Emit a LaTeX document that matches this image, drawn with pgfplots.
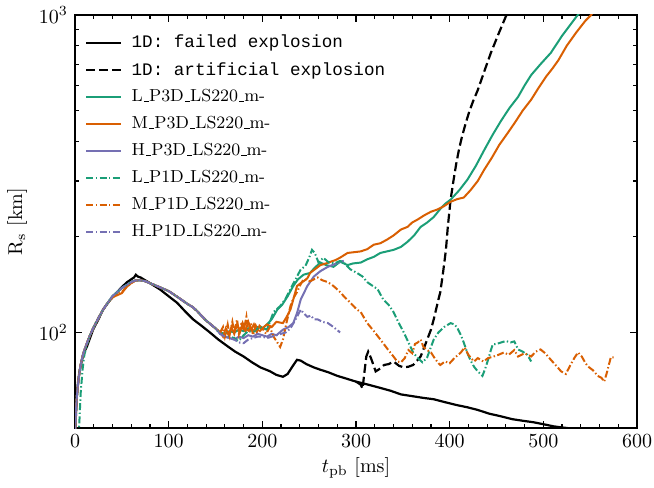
\documentclass[border=0pt]{standalone}
\usepackage{fontspec}
\usepackage{pgfplots}
\pgfplotsset{compat=1.18}
\newfontfamily\cour{Liberation Mono}
\newcommand{\us}{\leavevmode\kern.06em\vbox{\hrule width.3em}}
\newcommand{\lm}[1]{{\fontsize{8.7}{10}\selectfont #1}}
\newcommand{\lt}[1]{{\cour\fontsize{8.8}{10}\selectfont #1}}
\definecolor{dgreen}{HTML}{1B9E77}
\definecolor{dorange}{HTML}{D95F02}
\definecolor{dpurple}{HTML}{7570B3}
\begin{document}
\begin{tikzpicture}
\begin{axis}[
  scale only axis,
  width=281pt, height=206.5pt,
  xmin=0, xmax=600, ymin=50, ymax=1000,
  ymode=log,
  xtick={0,100,...,600},
  minor x tick num=4,
  ytick={100,1000},
  tick align=inside,
  major tick length=3.5pt, minor tick length=2pt,
  axis line style={line width=0.8pt},
  every tick/.style={black, line width=0.6pt},
  xlabel={$t_{\mathrm{pb}}$ [ms]},
  ylabel={R$_{\mathrm{s}}$ [km]},
  xlabel style={yshift=2pt},
  ylabel style={yshift=-1pt},
  legend style={at={(0.007,0.972)}, anchor=north west, draw=none, fill=none,
    row sep=1.8pt, cells={anchor=west},
    /tikz/every odd column/.append style={column sep=3pt}},
  legend cell align=left,
  clip=true,
]
% 1D failed
\addplot[black, line width=1.1pt] coordinates {
(0,47)(1,55)(2,63)(3.2,69.6)(5,76)(7.5,82)(10,87)(12.8,90.4)(16,96)(19.3,102)(25,110)(30,118)(37,126)(45,134)(50,139)(55.6,144)(60,147)(63,149)(65,152)(67,150)(70,149)(80,143)(90.9,136.5)(100,130)(109,124)(117,117)(126,110)(135,105)(144,100)(153,95)(163,90.4)(171,87)(180,84)(189,80.5)(198,77.6)(208,75.5)(215,73.5)(222,72.5)(227,74)(232,78)(237,82)(241,81.5)(247,79.5)(255,77.6)(262,76.3)(270,75)(280,73)(290,71.5)(300,70)(312,68.6)(325,67)(337,65.5)(348,63.8)(360,63)(372,62.2)(383,61.6)(395,60.3)(407,59.1)(419,58.1)(430,57)(442,55.5)(455,54.4)(467,53.3)(478,52.7)(490,52.1)(500,51.4)(511,50.6)(520,50.2)(530,49.8)(540,49.5)
};
\addlegendentry{\lt{1D: failed explosion}}
% 1D artificial
\addplot[black, line width=1.1pt, dash pattern=on 4.5pt off 2pt] coordinates {
(300,70)(305,68.5)(307,66.5)(309,75)(311,84)(313,87)(316,83)(321,75.4)(326,77)(330,79)(335,79.5)(340,81)(346,78.5)(351,77.6)(356,78)(361,79)(366,82)(369,84)(373,90)(376,95)(380,102)(383,110)(388,127)(390,134)(393,155)(396,182)(398,215)(401,262)(404,300)(407,340)(410,378)(413,412)(417,455)(421,497)(425,535)(430,580)(437,665)(444,760)(452,870)(460,990)(465,1060)
};
\addlegendentry{\lt{1D: artificial explosion}}
% L_P3D
\addplot[dgreen, line width=1pt] coordinates {
(0,47)(1,56)(2,63)(4,72)(6,79)(8,84)(10,88)(13,93)(16,98)(20,104)(25,111)(30,118)(35,124)(40,130)(45,134)(50,138)(55,141)(60,144)(65,146)(70,146)(75,145)(80,143)(90,139)(100,135)(110,129)(120,123)(126,120)(130,117)(140,109)(150,103)(155,100)(160,99)(165,101)(170,100)(175,102)(180,101)(185,103)(190,101)(195,104)(200,103)(205,106)(210,110)(216,118)(221,122)(227,130)(233,140)(238,147)(244,152)(251,154)(256,160)(262,166)(268,163)(276,161)(283,167)(291,163)(297,165)(305,166)(312,170)(319,173)(326,178)(333,180)(340,182)(348,186)(355,193)(362,202)(369,215)(376,222)(383,231)(390,245)(395,254)(401,262)(410,280)(419,303)(428,335)(437,376)(446,420)(455,465)(464,510)(473,552)(480,600)(487,647)(497,700)(508,760)(520,860)(535,985)(540,1030)
};
\addlegendentry{\lm{L\us P3D\us LS220\us m-}}
% M_P3D
\addplot[dorange, line width=1pt] coordinates {
(0,47)(1,56)(2,63)(4,72)(6,79)(8,84)(10,88)(13,93)(16,98)(20,104)(25,111)(30,118)(35,124)(40,129)(45,131)(50,133)(55,139)(60,143)(65,146)(70,146)(75,145)(80,143)(90,139)(100,135)(110,129)(120,123)(126,120)(130,117)(140,109)(150,103)(155,100)(158,97)(161,103)(164,98)(167,104)(170,99)(173,106)(176,100)(179,107)(182,101)(185,108)(188,102)(191,106)(194,100)(197,105)(200,103)(205,106)(210,104)(215,108)(222,107)(226,112)(230,118)(234,130)(237,140)(241,143)(244,145)(248,148)(251,154)(256,158)(262,163)(268,165)(273,167)(278,169)(283,172)(291,178)(298,179)(305,180)(312,183)(319,189)(326,191)(333,196)(340,202)(348,211)(355,215)(360,222)(366,227)(373,234)(380,240)(387,244)(394,250)(401,258)(408,263)(415,266)(422,280)(430,300)(437,326)(445,355)(453,390)(462,425)(470,460)(478,500)(487,541)(495,590)(503,640)(510,680)(516,720)(525,800)(535,880)(545,960)(551,1000)(555,1040)
};
\addlegendentry{\lm{M\us P3D\us LS220\us m-}}
% H_P3D
\addplot[dpurple, line width=1pt] coordinates {
(0,47)(1,56)(2,63)(4,72)(6,79)(8,84)(10,88)(13,93)(16,98)(20,104)(25,111)(30,118)(35,124)(40,130)(45,134)(50,138)(55,141)(60,144)(65,146)(70,146)(75,145)(80,143)(90,139)(100,135)(110,129)(120,123)(126,120)(130,117)(140,109)(150,103)(155,99)(160,97)(165,96)(170,95)(175,97)(180,96)(185,98)(190,97)(195,99)(200,98)(205,97)(210,99)(215,98)(222,102)(228,104)(233,107)(237,115)(241,127)(248,140)(255,150)(262,156)(270,161)(277,164)(283,167)(287,168)
};
\addlegendentry{\lm{H\us P3D\us LS220\us m-}}
% L_P1D
\addplot[dgreen, line width=1pt, dash pattern=on 3.5pt off 1.2pt on 0.7pt off 1.2pt] coordinates {
(4,47)(5,55)(6,64)(8,76)(10,85)(13,92)(16,98)(20,104)(25,111)(30,118)(35,124)(40,130)(45,134)(50,138)(55,141)(60,144)(65,146)(70,146)(75,145)(80,143)(90,139)(100,135)(110,129)(120,123)(126,120)(130,117)(140,109)(150,103)(155,99)(160,98)(165,97)(170,96)(174,94)(176,95)(180,98)(185,101)(190,100)(195,103)(198,104)(205,102)(212,116)(219,121)(225,128)(230,137)(236,148)(241,158)(246,162)(250,172)(253,182)(256,178)(260,166)(265,172)(271,166)(277,165)(283,168)(287,166)(294,158)(301,154)(307,150)(312,144)(318,140)(323,137)(329,127)(335,122)(340,116)(345,108)(351,100)(356,93)(361,86.5)(366,83)(371,80.5)(376,83.5)(380,90)(383,95)(388,100)(394,104)(401,107)(405,106)(408,103.6)(412,98)(415,93)(419,86)(422,82)(426,78)(430,75.4)(435,73)(438,77)(441,82)(444,88)(446,91.7)(450,92)(455,93)(460,94)(465,93)(469,93.7)(473,88.4)(478,87)(483,85)(487,81)
};
\addlegendentry{\lm{L\us P1D\us LS220\us m-}}
% M_P1D
\addplot[dorange, line width=1pt, dash pattern=on 3.5pt off 1.2pt on 0.7pt off 1.2pt] coordinates {
(0,47)(1,56)(2,63)(4,72)(6,79)(8,84)(10,88)(13,93)(16,98)(20,104)(25,111)(30,118)(35,124)(40,129)(45,132)(50,134)(55,139)(60,143)(65,146)(70,146)(75,145)(80,143)(90,139)(100,135)(110,129)(120,123)(126,120)(130,117)(140,109)(150,103)(155,100)(158,104)(160,97)(163,106)(165,98)(168,108)(170,100)(173,110)(175,99)(178,108)(180,101)(183,112)(185,100)(188,107)(190,98)(193,105)(196,100)(200,103)(204,99)(208,104)(212,97)(216,93)(219,90)(222,95)(226,108)(230,121)(233,128)(237,134)(241,142)(244,147)(248,146)(251,145)(255,147)(259,149)(264,146)(270,144)(276,140)(282,135)(287,130)(294,124)(301,118)(305,116)(312,107)(319,101)(326,95)(334,88.4)(340,84)(344,81)(348,80.5)(352,83)(356,88)(360,86)(363,92)(366,93)(369,95)(372,90)(376,88)(380,86.5)(384,83)(388,80)(390,79)(395,81)(400,80)(405,83)(409,85)(412,86.5)(416,89.7)(420,85)(426,81)(430,83)(436,81)(441,83)(447,84)(452,85)(458,86.5)(463,85)(469,88)(473,84)(480,86)(487,84)(492,87)(497,88.4)(502,86)(508,82)(513,79)(519,75.4)(524,74)(528,78)(533,83)(537,86.5)(541,84)(545,80)(548,78)(553,76)(558,73)(562,72)(565,70)(568,75)(572,83.5)(575,83.5)
};
\addlegendentry{\lm{M\us P1D\us LS220\us m-}}
% H_P1D
\addplot[dpurple, line width=1pt, dash pattern=on 3.5pt off 1.2pt on 0.7pt off 1.2pt] coordinates {
(0,47)(1,56)(2,63)(4,72)(6,79)(8,84)(10,88)(13,93)(16,98)(20,104)(25,111)(30,118)(35,124)(40,130)(45,134)(50,138)(55,141)(60,144)(65,146)(70,146)(75,145)(80,143)(90,139)(100,135)(110,129)(120,123)(126,120)(130,117)(140,109)(150,103)(155,99)(160,97)(165,96)(170,95)(175,93)(180,92.5)(185,95)(190,96)(195,97)(200,97)(205,96)(210,97)(215,98)(220,99)(225,100)(230,103)(234,108)(237,112)(241,118)(244,115)(248,112)(252,113)(255,110)(259,110)(264,108)(270,107)(276,104)(283,100)
};
\addlegendentry{\lm{H\us P1D\us LS220\us m-}}
\end{axis}
\pgfresetboundingbox
\path ([shift={(-37.5pt,-29.5pt)}]current axis.south west) rectangle ([shift={(8.5pt,7.5pt)}]current axis.north east);
\end{tikzpicture}
\end{document}
